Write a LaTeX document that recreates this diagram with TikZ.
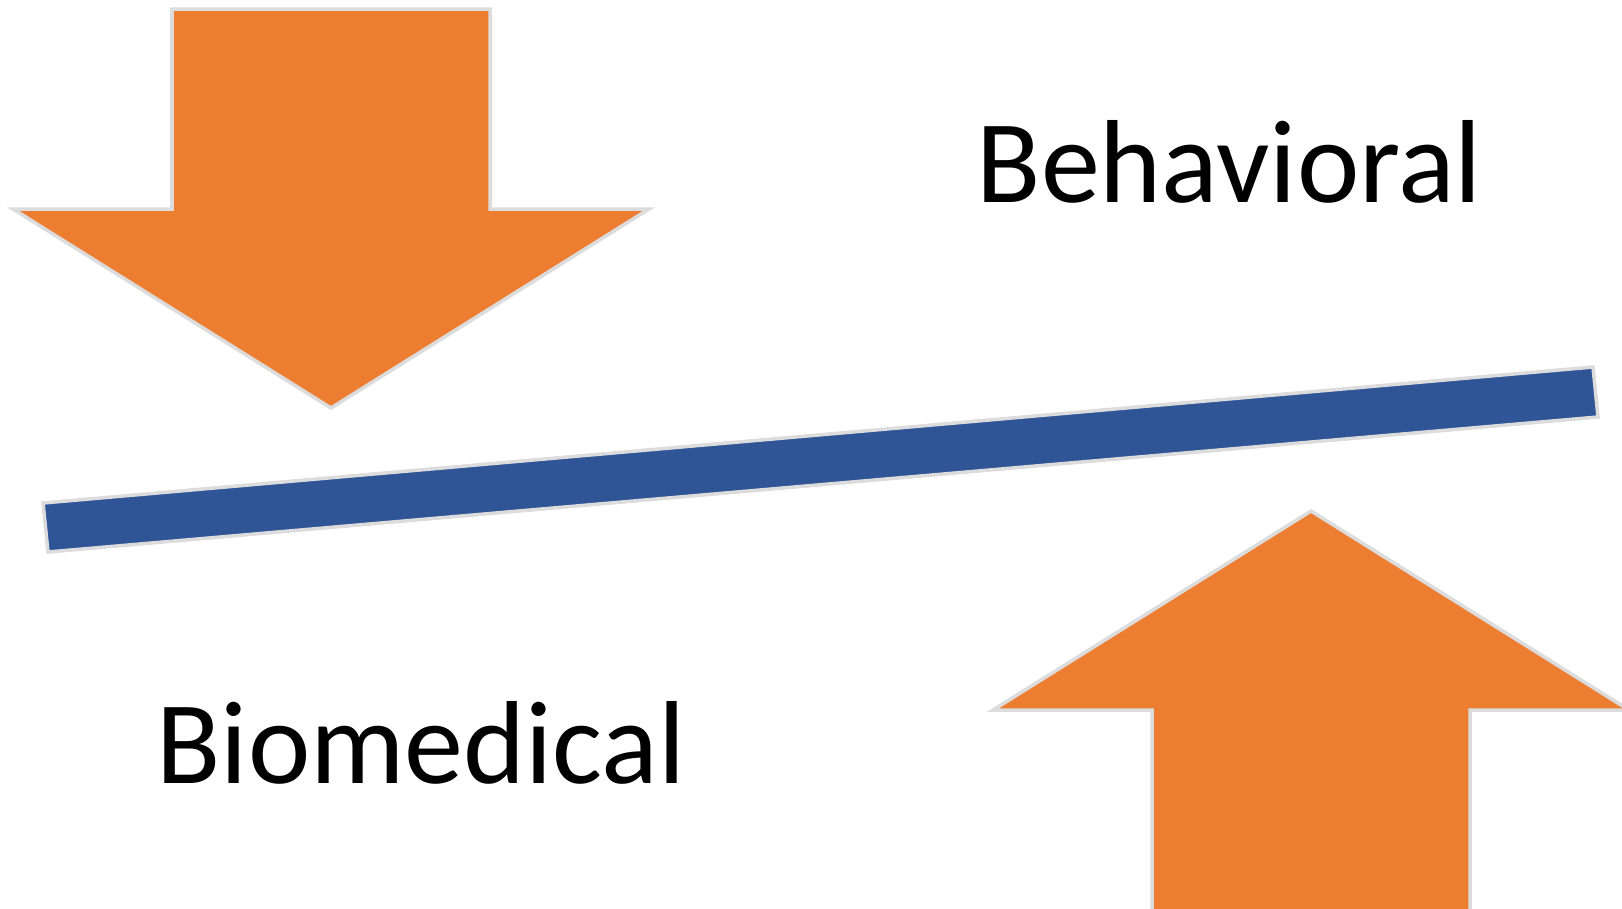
\documentclass[tikz,border=0pt]{standalone}
\usepackage{fontspec}
\setmainfont{Carlito}
\definecolor{arroworange}{HTML}{ED7D31}
\definecolor{barblue}{HTML}{2F5597}
\definecolor{edgegray}{HTML}{DCDCDC}
\tikzset{
  bigarrow/.style={fill=arroworange, draw=edgegray, line width=1pt, line join=miter},
  beam/.style={fill=barblue, draw=edgegray, line width=1pt},
  label/.style={inner sep=0pt, anchor=base west, font=\fontsize{33.6}{40}\selectfont}
}
\begin{document}
\begin{tikzpicture}[x=0.01cm, y=-0.01cm]
\useasboundingbox (0,0) rectangle (1622,908);
\clip (0,0) rectangle (1622,908);
% top arrow pointing down
\path[bigarrow] (172,9) -- (490,9) -- (490,209) -- (649,209) -- (331,408) -- (13,209) -- (172,209) -- cycle;
% beam
\path[beam] (43,503) -- (1593,367) -- (1598,417) -- (48,552) -- cycle;
% bottom arrow pointing up
\path[bigarrow] (1311,511) -- (1629,710) -- (1470,710) -- (1470,960) -- (1152,960) -- (1152,710) -- (993,710) -- cycle;
\node[label] (behav) at (976,202) {Behavioral};
\node[label] (biomed) at (156,783) {Biomedical};
\end{tikzpicture}
\end{document}
